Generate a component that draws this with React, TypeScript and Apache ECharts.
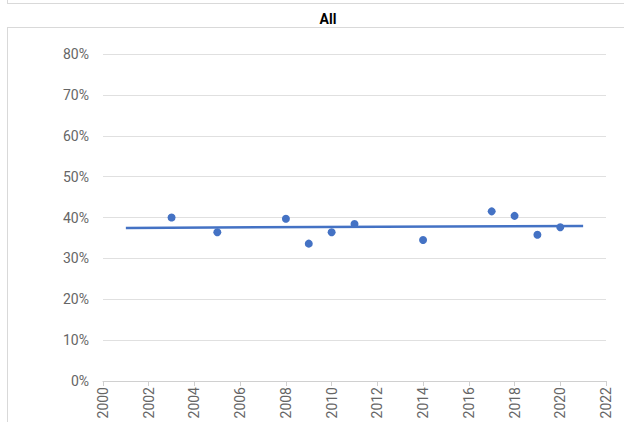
import React, { useEffect, useRef } from "react";
import * as echarts from "echarts";

const title = "All";
const years = [2003, 2005, 2008, 2009, 2010, 2011, 2014, 2017, 2018, 2019, 2020];
const values = [40.0, 36.4, 39.7, 33.6, 36.4, 38.4, 34.5, 41.5, 40.4, 35.8, 37.6];
const trendYears = [2001, 2021];
const trendValues = [37.45, 37.95];
const xMin = 2000;
const xMax = 2022;
const xStep = 2;
const yMin = 0;
const yMax = 80;
const yStep = 10;

const FONT = "Roboto, 'Open Sans', sans-serif";
const BLUE = "#4472C4";
const FRAME = "#d9d9d9";

export default function App() {
  const ref = useRef<HTMLDivElement>(null);
  useEffect(() => {
    if (!ref.current) return;
    const chart = echarts.init(ref.current, undefined, { renderer: "svg" });
    chart.setOption({
      animation: false,
      backgroundColor: "#ffffff",
      title: {
        text: title,
        left: 323,
        textAlign: "center",
        top: 7,
        textStyle: { fontFamily: FONT, fontSize: 14, fontWeight: "bold", color: "#000000" },
      },
      graphic: [
        { type: "line", shape: { x1: 7.5, y1: 0, x2: 7.5, y2: 3.5 }, style: { stroke: FRAME, lineWidth: 1 } },
        { type: "line", shape: { x1: 7, y1: 3.5, x2: 624, y2: 3.5 }, style: { stroke: FRAME, lineWidth: 1 } },
        { type: "line", shape: { x1: 7, y1: 27.5, x2: 624, y2: 27.5 }, style: { stroke: FRAME, lineWidth: 1 } },
        { type: "line", shape: { x1: 7.5, y1: 27, x2: 7.5, y2: 422 }, style: { stroke: FRAME, lineWidth: 1 } },
      ],
      grid: { left: 103, right: 18, top: 54, bottom: 41, containLabel: false },
      xAxis: {
        type: "value",
        min: xMin,
        max: xMax,
        interval: xStep,
        axisLine: { show: true, lineStyle: { color: "#d0d0d0", width: 1 } },
        axisTick: { show: true, length: 5, lineStyle: { color: "#d0d0d0" } },
        splitLine: { show: false },
        axisLabel: {
          rotate: 90,
          margin: 6,
          color: "#666666",
          fontFamily: FONT,
          fontSize: 14,
          formatter: (v: number) => String(v),
        },
      },
      yAxis: {
        type: "value",
        min: yMin,
        max: yMax,
        interval: yStep,
        axisLine: { show: false },
        axisTick: { show: false },
        splitLine: { show: true, lineStyle: { color: "#e0e0e0", width: 1 } },
        axisLabel: {
          margin: 14,
          color: "#666666",
          fontFamily: FONT,
          fontSize: 14,
          formatter: (v: number) => `${v}%`,
        },
      },
      series: [
        {
          type: "line",
          data: trendYears.map((y, i) => [y, trendValues[i]]),
          showSymbol: false,
          symbol: "none",
          lineStyle: { color: BLUE, width: 2.5 },
          z: 2,
        },
        {
          type: "scatter",
          data: years.map((y, i) => [y, values[i]]),
          symbolSize: 8,
          itemStyle: { color: BLUE, opacity: 1 },
          z: 3,
        },
      ],
    });
    return () => chart.dispose();
  }, []);
  return (
    <div
      ref={ref}
      style={{ position: "absolute", left: 0, top: 0, width: 624, height: 422 }}
    />
  );
}
